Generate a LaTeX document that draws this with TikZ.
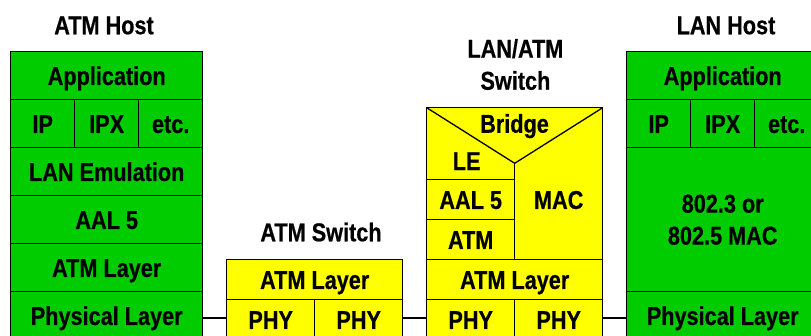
\documentclass[tikz,border=0pt]{standalone}
\usepackage{fontspec}
\setmainfont{Liberation Sans}[FakeStretch=0.84, BoldFeatures={FakeBold=0.5}]
\definecolor{hostgreen}{RGB}{0,204,0}
\definecolor{swyellow}{RGB}{255,255,0}
\begin{document}
\begin{tikzpicture}[x=1pt,y=-1pt,
  lbl/.style={font=\fontsize{25.8}{32}\selectfont\bfseries, inner sep=0pt, outer sep=0pt, align=center},
  capfix/.style={text height=18.5pt, text depth=0pt},
  cell/.style={lbl, capfix, draw=black, line width=1.3pt, minimum width=#1},
  gcell/.style={cell=#1, fill=hostgreen, minimum height=48pt},
  ycell/.style={cell=#1, fill=swyellow, minimum height=40pt},
  link/.style={draw=black, line width=2pt}]
\useasboundingbox (0,0) rectangle (811,335);
\clip (0,0) rectangle (811,335);
% titles
\node[lbl, capfix] (tAH) at (104,25) {ATM Host};
\node[lbl, capfix] (tAS) at (321,232) {ATM Switch};
\node[lbl] (tLS) at (515.4,64.5) {LAN/ATM\\Switch};
\node[lbl, capfix] (tLH) at (726,25) {LAN Host};
% ATM host
\node[gcell=192pt] (hApp) at (106.7,75.7) {Application};
\node[gcell=64pt] (hIP) at (42.7,123.7) {IP};
\node[gcell=64pt] (hIPX) at (106.7,123.7) {IPX};
\node[gcell=64pt] (hEtc) at (170.7,123.7) {etc.};
\node[gcell=192pt] (hLE) at (106.7,171.7) {LAN Emulation};
\node[gcell=192pt] (hAAL) at (106.7,219.7) {AAL 5};
\node[gcell=192pt] (hATM) at (106.7,267.7) {ATM Layer};
\node[gcell=192pt] (hPhy) at (106.7,315.7) {Physical Layer};
% ATM switch
\node[ycell=176pt] (sATM) at (314.7,279.7) {ATM Layer};
\node[ycell=88pt] (sPhyA) at (270.7,319.7) {PHY};
\node[ycell=88pt] (sPhyB) at (358.7,319.7) {PHY};
% LAN/ATM switch
\node[cell=176pt, fill=swyellow, minimum height=152pt] (lsw) at (514.7,183.7) {};
\coordinate (apex) at (514.7,163.3);
\node[ycell=88pt] (lAAL) at (470.7,199.7) {AAL 5};
\node[ycell=88pt] (lATMc) at (470.7,239.7) {ATM};
\draw[line width=1.3pt] (lsw.north west) -- (apex) -- (lsw.north east);
\draw[line width=1.3pt] (apex) -- (lATMc.south east);
\node[lbl, capfix] (lBr) at (514.5,123.5) {Bridge};
\node[lbl, capfix] (lLE) at (466.7,160.8) {LE};
\node[lbl, capfix] (lMAC) at (558.7,199.7) {MAC};
\node[ycell=176pt] (lATM) at (514.7,279.7) {ATM Layer};
\node[ycell=88pt] (lPhyA) at (470.7,319.7) {PHY};
\node[ycell=88pt] (lPhyB) at (558.7,319.7) {PHY};
% LAN host
\node[gcell=192pt] (nApp) at (722.7,75.7) {Application};
\node[gcell=64pt] (nIP) at (658.7,123.7) {IP};
\node[gcell=64pt] (nIPX) at (722.7,123.7) {IPX};
\node[gcell=64pt] (nEtc) at (786.7,123.7) {etc.};
\node[gcell=192pt, minimum height=144pt] (nMAC) at (722.7,219.7) {};
\node[lbl] (nMACt) at (nMAC.center) {802.3 or\\802.5 MAC};
\node[gcell=192pt] (nPhy) at (722.7,315.7) {Physical Layer};
% links
\coordinate (ly) at (0,318.3);
\draw[link] (hPhy.east |- ly) -- (sPhyA.west |- ly);
\draw[link] (sPhyB.east |- ly) -- (lPhyA.west |- ly);
\draw[link] (lPhyB.east |- ly) -- (nPhy.west |- ly);
\end{tikzpicture}
\end{document}
